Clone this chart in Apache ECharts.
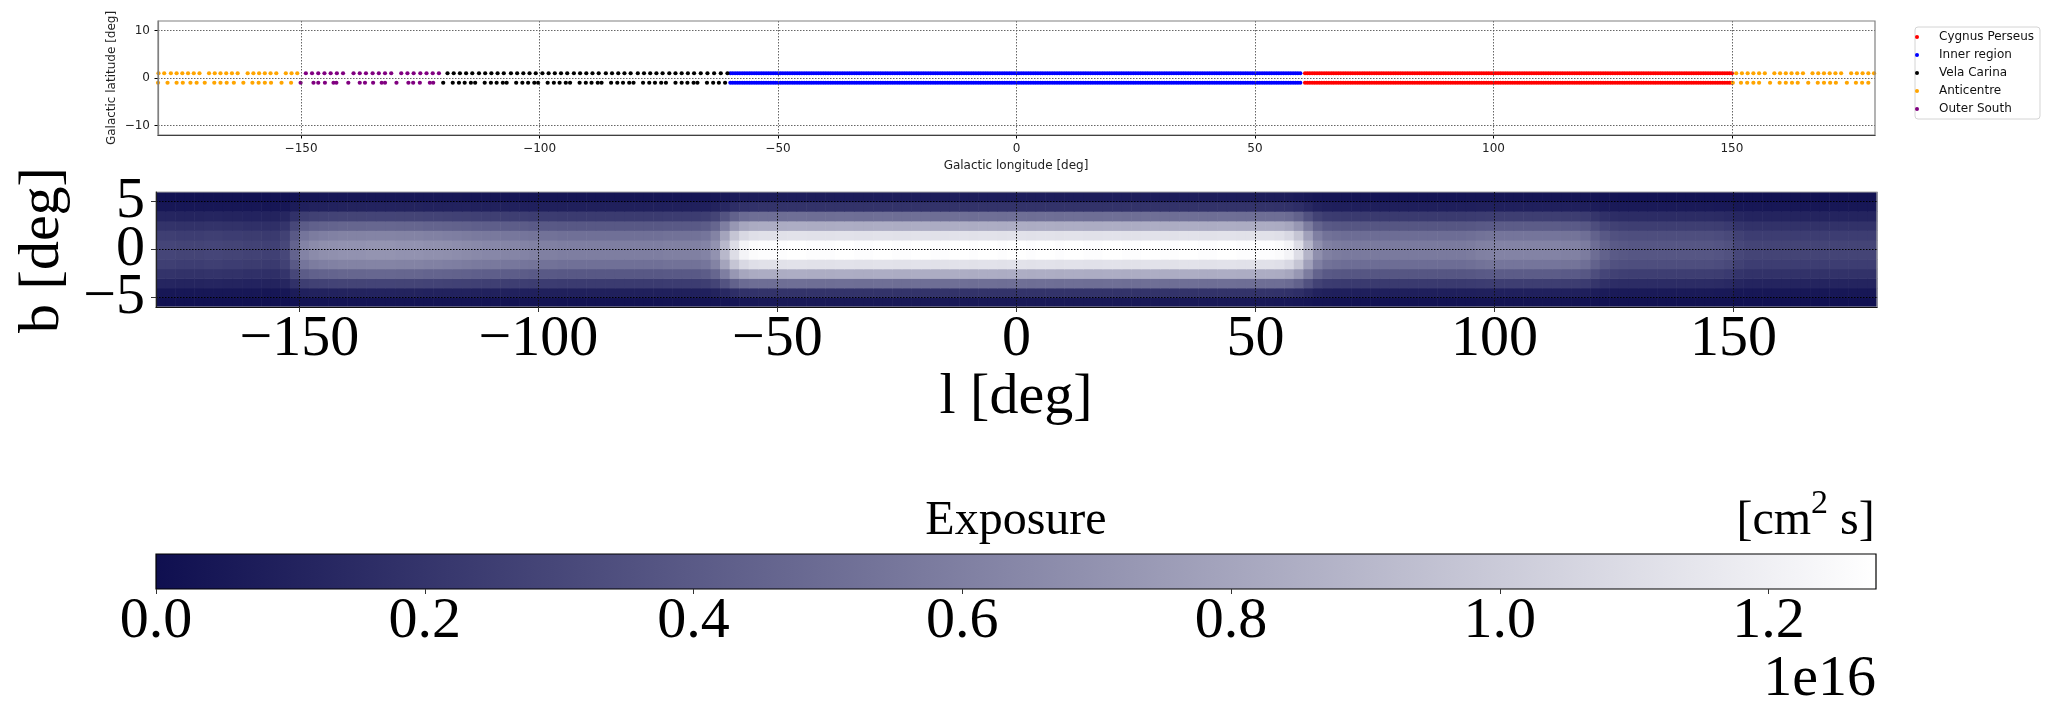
<!DOCTYPE html>
<html><head><meta charset="utf-8">
<script src="https://cdn.jsdelivr.net/npm/echarts@6/dist/echarts.min.js"></script>
<style>html,body{margin:0;padding:0;background:#fff}#chart{width:2061px;height:703px}</style>
</head><body><div id="chart"></div>
<script>
// ================= DATA =================
const regionNames = ['Cygnus Perseus', 'Inner region', 'Vela Carina', 'Anticentre', 'Outer South'];
const regionColors = ['#ff0000', '#0000ff', '#000000', '#ffa500', '#800080'];
const upperRowLat = 1;
const lowerRowLat = -1;

// pointing longitudes (deg)
const cygnusL = [
60.5,61,61.5,62,62.5,63,63.5,64,64.5,65,65.5,66,66.5,67,67.5,68,68.5,69,69.5,70,
70.5,71,71.5,72,72.5,73,73.5,74,74.5,75,75.5,76,76.5,77,77.5,78,78.5,79,79.5,80,
80.5,81,81.5,82,82.5,83,83.5,84,84.5,85,85.5,86,86.5,87,87.5,88,88.5,89,89.5,90,
90.5,91,91.5,92,92.5,93,93.5,94,94.5,95,95.5,96,96.5,97,97.5,98,98.5,99,99.5,100,
100.5,101,101.5,102,102.5,103,103.5,104,104.5,105,105.5,106,106.5,107,107.5,108,108.5,109,109.5,110,
110.5,111,111.5,112,112.5,113,113.5,114,114.5,115,115.5,116,116.5,117,117.5,118,118.5,119,119.5,120,
120.5,121,121.5,122,122.5,123,123.5,124,124.5,125,125.5,126,126.5,127,127.5,128,128.5,129,129.5,130,
130.5,131,131.5,132,132.5,133,133.5,134,134.5,135,135.5,136,136.5,137,137.5,138,138.5,139,139.5,140,
140.5,141,141.5,142,142.5,143,143.5,144,144.5,145,145.5,146,146.5,147,147.5,148,148.5,149,149.5,150];
const innerL = [
-60,-59.5,-59,-58.5,-58,-57.5,-57,-56.5,-56,-55.5,-55,-54.5,-54,-53.5,-53,-52.5,-52,-51.5,-51,-50.5,
-50,-49.5,-49,-48.5,-48,-47.5,-47,-46.5,-46,-45.5,-45,-44.5,-44,-43.5,-43,-42.5,-42,-41.5,-41,-40.5,
-40,-39.5,-39,-38.5,-38,-37.5,-37,-36.5,-36,-35.5,-35,-34.5,-34,-33.5,-33,-32.5,-32,-31.5,-31,-30.5,
-30,-29.5,-29,-28.5,-28,-27.5,-27,-26.5,-26,-25.5,-25,-24.5,-24,-23.5,-23,-22.5,-22,-21.5,-21,-20.5,
-20,-19.5,-19,-18.5,-18,-17.5,-17,-16.5,-16,-15.5,-15,-14.5,-14,-13.5,-13,-12.5,-12,-11.5,-11,-10.5,
-10,-9.5,-9,-8.5,-8,-7.5,-7,-6.5,-6,-5.5,-5,-4.5,-4,-3.5,-3,-2.5,-2,-1.5,-1,-0.5,
0,0.5,1,1.5,2,2.5,3,3.5,4,4.5,5,5.5,6,6.5,7,7.5,8,8.5,9,9.5,
10,10.5,11,11.5,12,12.5,13,13.5,14,14.5,15,15.5,16,16.5,17,17.5,18,18.5,19,19.5,
20,20.5,21,21.5,22,22.5,23,23.5,24,24.5,25,25.5,26,26.5,27,27.5,28,28.5,29,29.5,
30,30.5,31,31.5,32,32.5,33,33.5,34,34.5,35,35.5,36,36.5,37,37.5,38,38.5,39,39.5,
40,40.5,41,41.5,42,42.5,43,43.5,44,44.5,45,45.5,46,46.5,47,47.5,48,48.5,49,49.5,
50,50.5,51,51.5,52,52.5,53,53.5,54,54.5,55,55.5,56,56.5,57,57.5,58,58.5,59,59.5];
const velaUpperL = [
-119.3,-118.0,-116.7,-115.4,-114.1, -112.7,-111.4,-110.1,-108.8,-107.5,
-106.0,-104.7,-103.4,-102.1,-100.8, -99.4,-98.1,-96.8,-95.5,-94.2,
-92.8,-91.5,-90.2,-88.9,-87.6, -86.1,-84.8,-83.5,-82.2,-80.9,
-79.4,-78.1,-76.8,-75.5,-74.2, -72.8,-71.5,-70.2,-68.9,-67.6,
-66.2,-64.8,-63.4,-62.0,-60.6];
const velaLowerL = [
-120.2,-118.2,-116.9,-115.7,-114.4, -113.5,-111.5,-110.2,-109.0,-107.7,
-106.9,-104.9,-103.6,-102.4,-101.1, -100.3,-98.3,-97.0,-95.8,-94.5,
-93.6,-91.6,-90.3,-89.1,-87.8, -87.0,-85.0,-83.7,-82.5,-81.2,
-80.3,-78.3,-77.0,-75.8,-74.5, -73.5,-71.5,-70.2,-69.0,-67.7,
-66.9,-64.9,-63.6,-62.4,-61.1];
const anticentreUpperL = [
-179.9,-178.7,-177.3,-176.1,-174.9,-173.7,-172.5,-171.3,
-169.3,-168.1,-166.9,-165.7,-164.5,-163.3,
-161.2,-160.0,-158.8,-157.6,-156.4,-155.2,
-153.2,-152.0,-150.8,
150.9,152.1,153.3,154.5,155.7,156.9,
158.9,160.1,161.3,162.5,163.7,164.9,
166.9,168.1,169.3,170.5,171.7,172.9,
175.0,176.2,177.4,178.6,179.8];
const anticentreLowerL = [
-180.0,-178.0,-176.1,-174.8,-173.2,-171.9,-170.2,-168.2,-166.9,-165.6,-164.1,
-162.1,-160.2,-158.9,-157.6,-156.3,-154.1,-152.1,
150.2,151.9,153.2,154.5,155.7,158.0,160.0,161.3,162.6,163.8,
166.0,168.0,169.3,170.6,171.8,174.1,176.0,177.3,178.6];
const outerSouthUpperL = [
-149.0,-147.7,-146.4,-145.1,-143.8,-142.5,-141.2,
-139.0,-137.7,-136.4,-135.0,-133.7,-132.4,-131.1,
-129.0,-127.7,-126.4,-125.0,-123.7,-122.4,-121.1];
const outerSouthLowerL = [
-150.1,-147.4,-146.4,-145.0,-143.2,-142.6,
-140.1,-137.7,-136.6,-134.9,-133.1,-132.4,
-130.0,-127.5,-126.5,-125.1,-123.0,-122.3];

// exposure map (units of 1e16 cm^2 s): 2-deg longitude bins from -180, 1-deg latitude rows
const lonBinStart = -180;
const lonBinWidth = 2;
const exposureAlongPlane = [ // value in the b=±0.5 rows, l = -179 ... 179
0.29,0.29,0.28,0.28,0.28,0.29,0.29,0.28,0.28,0.27,
0.27,0.26,0.26,0.30,0.45,0.62,0.66,0.68,0.69,0.70,
0.70,0.70,0.71,0.71,0.71,0.70,0.70,0.70,0.69,0.69,
0.68,0.67,0.66,0.65,0.64,0.64,0.63,0.63,0.62,0.61,
0.60,0.60,0.59,0.59,0.59,0.59,0.59,0.59,0.59,0.59,
0.59,0.59,0.59,0.60,0.60,0.60,0.60,0.62,0.70,0.90,
1.10,1.22,1.26,1.27,1.27,1.27,1.28,1.28,1.27,1.27,
1.27,1.28,1.28,1.27,1.27,1.28,1.28,1.27,1.27,1.28,
1.28,1.27,1.27,1.28,1.28,1.27,1.28,1.28,1.27,1.28,
1.28,1.27,1.28,1.28,1.27,1.28,1.28,1.27,1.27,1.28,
1.28,1.27,1.27,1.28,1.28,1.27,1.27,1.28,1.28,1.27,
1.27,1.28,1.28,1.27,1.27,1.27,1.27,1.26,1.22,1.10,
0.88,0.68,0.60,0.58,0.57,0.57,0.57,0.57,0.57,0.57,
0.57,0.57,0.57,0.57,0.57,0.57,0.57,0.58,0.60,0.61,
0.62,0.62,0.62,0.62,0.62,0.62,0.62,0.61,0.61,0.58,
0.50,0.44,0.40,0.39,0.38,0.38,0.38,0.38,0.38,0.38,
0.38,0.38,0.38,0.37,0.35,0.30,0.28,0.28,0.28,0.28,
0.28,0.28,0.28,0.28,0.28,0.28,0.28,0.28,0.28,0.28];
const latRowCenters = [-5.5,-4.5,-3.5,-2.5,-1.5,-0.5,0.5,1.5,2.5,3.5,4.5,5.5];
const latRowFraction = [0.04,0.15,0.40,0.66,0.88,1.0,1.0,0.88,0.66,0.40,0.15,0.06];

// axes / colour bar
const lonTicks = [-150,-100,-50,0,50,100,150];
const topLatTicks = [-10,0,10];
const mapLatTicks = [-5,0,5];
const mapLatOuterLabels = [-5,5];
const mapLatCentreLabel = [0];
const colorbarTicks = [0,0.2,0.4,0.6,0.8,1.0,1.2];
const exposureMin = 0;
const exposureMax = 1.28;
const cmapColors = ['#0f0f50', '#ffffff'];

// ================= BUILD =================
const minus = v => (v < 0 ? '\u2212' + Math.abs(v) : String(v));
const rows = (ls, b) => ls.map(l => [l, b]);
const pointSets = [
  rows(cygnusL, upperRowLat).concat(rows(cygnusL, lowerRowLat)),
  rows(innerL, upperRowLat).concat(rows(innerL, lowerRowLat)),
  rows(velaUpperL, upperRowLat).concat(rows(velaLowerL, lowerRowLat)),
  rows(anticentreUpperL, upperRowLat).concat(rows(anticentreLowerL, lowerRowLat)),
  rows(outerSouthUpperL, upperRowLat).concat(rows(outerSouthLowerL, lowerRowLat))
];
const mapCells = [];
latRowCenters.forEach((b, j) => {
  exposureAlongPlane.forEach((v, i) => {
    mapCells.push([lonBinStart + lonBinWidth * (i + 0.5), b, +(v * latRowFraction[j]).toFixed(4)]);
  });
});

const sans = 'DejaVu Sans';
const serif = 'Liberation Serif';
const chart = echarts.init(document.getElementById('chart'), null, {renderer: 'canvas'});

const scatterSeries = regionNames.map((name, k) => ({
  name, type: 'scatter', xAxisIndex: 0, yAxisIndex: 0,
  data: pointSets[k], symbol: 'circle', symbolSize: 4.2,
  itemStyle: {color: regionColors[k], opacity: 1},
  emphasis: {disabled: true}, z: 3
}));

const bigLabel = {fontFamily: serif, fontSize: 58, color: '#000', hideOverlap: false, showMinLabel: true, showMaxLabel: true};

const option = {
  animation: false,
  backgroundColor: '#ffffff',
  grid: [
    {left: 158, top: 21, width: 1717, height: 114, show: true, borderColor: '#808080', borderWidth: 1.2, z: 6, outerBoundsMode: 'none', containLabel: false},
    {left: 156, top: 192, width: 1721, height: 115, show: true, borderColor: '#a8a8a8', borderWidth: 1.2, z: 6, outerBoundsMode: 'none', containLabel: false},
    {left: 156, top: 554, width: 1720, height: 35, show: true, borderColor: '#000000', borderWidth: 1.2, z: 6, outerBoundsMode: 'none', containLabel: false}
  ],
  xAxis: [
    {gridIndex: 0, type: 'value', min: -180, max: 180, z: 5,
     axisLine: {show: true, onZero: false, lineStyle: {color: '#000', width: 1.2}},
     axisTick: {show: true, length: 3.5, customValues: lonTicks, lineStyle: {color: '#000'}},
     axisLabel: {customValues: lonTicks, formatter: minus, margin: 8, fontFamily: sans, fontSize: 12, color: '#222', hideOverlap: false, showMinLabel: true, showMaxLabel: true},
     splitLine: {show: true, lineStyle: {color: '#555', type: [1.5, 1.5], width: 0.9}}},
    {gridIndex: 1, type: 'value', min: -180, max: 180, z: 10,
     axisLine: {show: true, onZero: false, lineStyle: {color: '#111', width: 1.2}},
     axisTick: {show: true, length: 5, customValues: lonTicks, lineStyle: {color: '#333'}},
     axisLabel: Object.assign({customValues: lonTicks, formatter: minus, margin: 4}, bigLabel),
     splitLine: {show: true, lineStyle: {color: '#111', type: [1.5, 1.5], width: 1}}},
    {gridIndex: 2, type: 'value', min: exposureMin, max: exposureMax, z: 10,
     axisLine: {show: false, onZero: false},
     axisTick: {show: true, length: 5, customValues: colorbarTicks, lineStyle: {color: '#333'}},
     axisLabel: Object.assign({customValues: colorbarTicks, formatter: v => v.toFixed(1), margin: 4}, bigLabel),
     splitLine: {show: false}}
  ],
  yAxis: [
    {gridIndex: 0, type: 'value', min: -12, max: 12, z: 5,
     axisLine: {show: true, onZero: false, lineStyle: {color: '#808080', width: 1.2}},
     axisTick: {show: true, length: 3.5, customValues: topLatTicks, lineStyle: {color: '#000'}},
     axisLabel: {customValues: topLatTicks, formatter: minus, margin: 8, fontFamily: sans, fontSize: 12, color: '#222', hideOverlap: false, showMinLabel: true, showMaxLabel: true},
     splitLine: {show: true, lineStyle: {color: '#555', type: [1.5, 1.5], width: 0.9}}},
    {gridIndex: 1, type: 'value', min: -6, max: 6, z: 10,
     axisLine: {show: true, onZero: false, lineStyle: {color: '#222', width: 1.2}},
     axisTick: {show: true, length: 5, customValues: mapLatTicks, lineStyle: {color: '#333'}},
     axisLabel: Object.assign({customValues: mapLatOuterLabels, formatter: minus, margin: 11}, bigLabel),
     splitLine: {show: true, lineStyle: {color: '#000', type: [1.5, 1.5], width: 1.1}}},
    {gridIndex: 2, type: 'value', min: 0, max: 1, show: false},
    {gridIndex: 1, type: 'value', min: -6, max: 6, z: 11, position: 'left', offset: 0,
     axisLine: {show: false, onZero: false},
     axisTick: {show: false},
     axisLabel: Object.assign({customValues: mapLatCentreLabel, formatter: minus, margin: 11}, bigLabel),
     splitLine: {show: false}}
  ],
  visualMap: [{
    type: 'continuous', show: false, min: exposureMin, max: exposureMax,
    dimension: 2, seriesIndex: 5, inRange: {color: cmapColors}
  }],
  legend: {
    orient: 'vertical', left: 1915, top: 27, padding: [3, 6, 3, 0],
    itemGap: 4, itemWidth: 34, itemHeight: 4, icon: 'circle',
    data: regionNames,
    textStyle: {fontFamily: sans, fontSize: 12, color: '#111', lineHeight: 14},
    borderColor: '#d4d4d4', borderWidth: 1, borderRadius: 3, backgroundColor: '#ffffff'
  },
  series: scatterSeries.concat([
    {
      name: 'Exposure', type: 'custom', xAxisIndex: 1, yAxisIndex: 1, z: 2,
      dimensions: ['l', 'b', 'exposure'], encode: {x: 0, y: 1},
      data: mapCells,
      renderItem: function (params, api) {
        const l = api.value(0), b = api.value(1);
        const p0 = api.coord([l - lonBinWidth / 2, b + 0.5]);
        const p1 = api.coord([l + lonBinWidth / 2, b - 0.5]);
        return {type: 'rect', shape: {x: p0[0], y: p0[1], width: p1[0] - p0[0] + 0.6, height: p1[1] - p0[1] + 0.6},
                style: {fill: api.visual('color')}};
      }
    },
    {
      name: 'colorbar', type: 'custom', xAxisIndex: 2, yAxisIndex: 2, z: 2,
      data: [[exposureMin, exposureMax]],
      renderItem: function (params, api) {
        const p0 = api.coord([api.value(0), 1]);
        const p1 = api.coord([api.value(1), 0]);
        return {type: 'rect', shape: {x: p0[0], y: p0[1], width: p1[0] - p0[0], height: p1[1] - p0[1]},
                style: {fill: new echarts.graphic.LinearGradient(0, 0, 1, 0, [
                  {offset: 0, color: cmapColors[0]}, {offset: 1, color: cmapColors[1]}])}};
      }
    }
  ]),
  graphic: [
    {type: 'text', x: 111.5, y: 78, rotation: Math.PI / 2,
     style: {text: 'Galactic latitude [deg]', fontFamily: sans, fontSize: 12, fill: '#222', align: 'center', verticalAlign: 'middle', textAlign: 'center', textVerticalAlign: 'middle'}},
    {type: 'text', x: 1016, y: 165.5,
     style: {text: 'Galactic longitude [deg]', fontFamily: sans, fontSize: 12, fill: '#222', align: 'center', verticalAlign: 'middle', textAlign: 'center', textVerticalAlign: 'middle'}},
    {type: 'text', x: 43, y: 250, rotation: Math.PI / 2,
     style: {text: 'b [deg]', fontFamily: serif, fontSize: 58, fill: '#000', align: 'center', verticalAlign: 'middle', textAlign: 'center', textVerticalAlign: 'middle'}},
    {type: 'text', x: 1016, y: 398,
     style: {text: 'l [deg]', fontFamily: serif, fontSize: 58, fill: '#000', align: 'center', verticalAlign: 'middle', textAlign: 'center', textVerticalAlign: 'middle'}},
    {type: 'text', x: 1016, y: 521,
     style: {text: 'Exposure', fontFamily: serif, fontSize: 48, fill: '#000', align: 'center', verticalAlign: 'middle', textAlign: 'center', textVerticalAlign: 'middle'}},
    {type: 'text', x: 1736.5, y: 521,
     style: {text: '[cm', fontFamily: serif, fontSize: 48, fill: '#000', align: 'left', verticalAlign: 'middle', textAlign: 'left', textVerticalAlign: 'middle'}},
    {type: 'text', x: 1811, y: 504.5,
     style: {text: '2', fontFamily: serif, fontSize: 34, fill: '#000', align: 'left', verticalAlign: 'middle', textAlign: 'left', textVerticalAlign: 'middle'}},
    {type: 'text', x: 1828, y: 521,
     style: {text: ' s]', fontFamily: serif, fontSize: 48, fill: '#000', align: 'left', verticalAlign: 'middle', textAlign: 'left', textVerticalAlign: 'middle'}},
    {type: 'text', x: 1876, y: 680,
     style: {text: '1e16', fontFamily: serif, fontSize: 58, fill: '#000', align: 'right', verticalAlign: 'middle', textAlign: 'right', textVerticalAlign: 'middle'}}
  ]
};
chart.setOption(option);
</script>
</body></html>
